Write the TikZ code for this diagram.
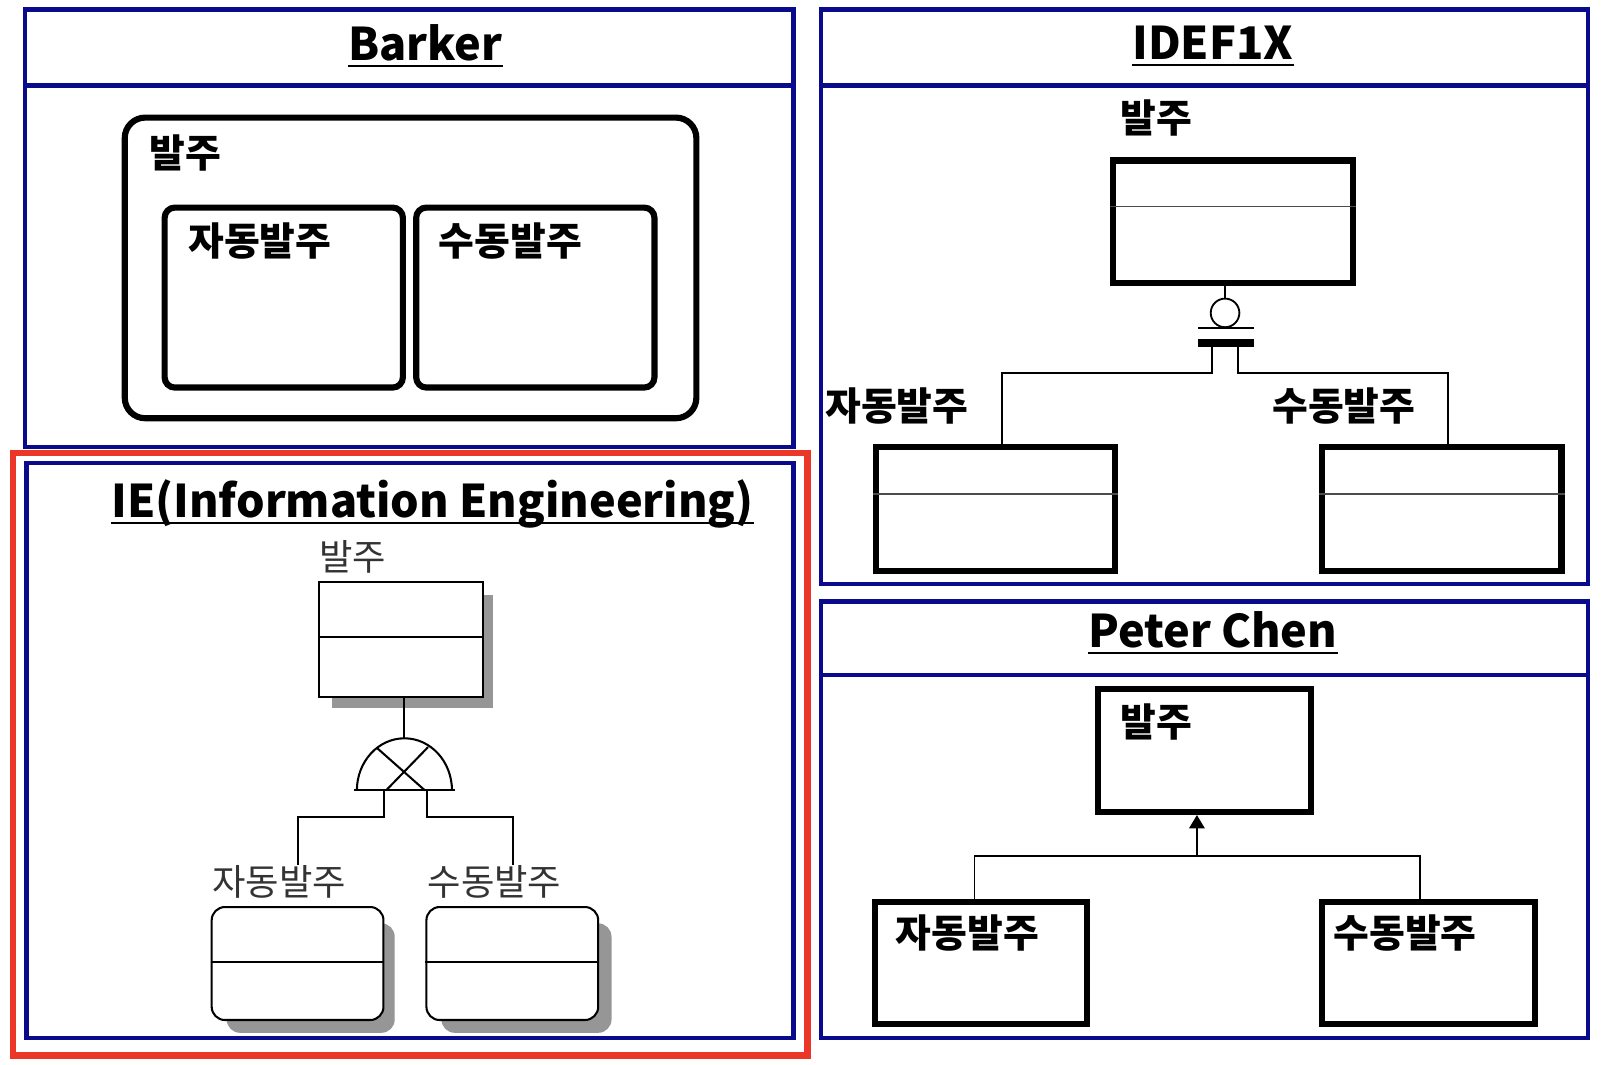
\documentclass[tikz,border=0pt]{standalone}
\usepackage{fontspec}
\setmainfont{Noto Sans CJK KR}
\usetikzlibrary{arrows.meta,fit}
\definecolor{frameblue}{RGB}{10,10,140}
\definecolor{framered}{RGB}{235,55,40}
\definecolor{shadowgray}{RGB}{150,150,150}
\tikzset{
  panel/.style={draw=frameblue,line width=4.4pt,inner sep=0pt},
  redframe/.style={draw=framered,line width=6.8pt,inner sep=0pt},
  heavy/.style={draw=black,line width=6pt,inner sep=0pt},
  thinline/.style={draw=black,line width=1.8pt},
  innerline/.style={draw=black!70,line width=1.4pt},
  iebox/.style={draw=black,line width=2pt,fill=white,inner sep=0pt},
  ieline/.style={draw=black,line width=2pt},
  ttl/.style={font=\bfseries\fontsize{44}{48}\selectfont,inner sep=0pt},
  uline/.style={draw=black,line width=2pt},
  lbl/.style={font=\bfseries\fontsize{38}{42}\selectfont,inner sep=0pt,anchor=west},
  ielbl/.style={font=\fontsize{35.5}{39}\selectfont,inner sep=0pt,text=black!80},
}
\begin{document}
\begin{tikzpicture}[x=1pt,y=-1pt]
\useasboundingbox (0,0) rectangle (1568.6,1040.6);
\fill[white] (0,0) rectangle (1568.6,1040.6);

% ---------- panels ----------
\node[panel,fit={(24.5,9.3) (776,437)}] (barker) {};
\draw[panel] (24.5,83.6) -- (776,83.6);
\node[panel,fit={(803,9.3) (1553,571)}] (idef) {};
\draw[panel] (803,83.6) -- (1553,83.6);
\node[panel,fit={(803,588) (1553,1015)}] (chen) {};
\draw[panel] (803,660) -- (1553,660);
\node[panel,fit={(26,453) (776,1015)}] (ie) {};
\node[redframe,fit={(12.7,443) (790,1032)}] (iered) {};

% ---------- titles ----------
\node[ttl] (tbarker) at (416,42) {Barker};
\node[ttl] (tidef) at (1186,42) {IDEF1X};
\node[ttl] (tchen) at (1186,616) {Peter Chen};
\node[ttl] (tie) at (423,493) {IE(Information Engineering)};
\foreach \t in {tbarker,tidef,tchen,tie}{
  \draw[uline] ([yshift=-5pt]\t.base west) -- ([yshift=-5pt]\t.base east);
}

% ---------- Barker ----------
\node[heavy,rounded corners=20pt,fit={(122,115) (681,409)}] (bpar) {};
\node[lbl] (bparl) at (146,150) {발주};
\node[heavy,rounded corners=10pt,fit={(161,203) (394,379)}] (bauto) {};
\node[lbl] (bautol) at (184,236) {자동발주};
\node[heavy,rounded corners=10pt,fit={(407,203) (640,379)}] (bman) {};
\node[lbl] (bmanl) at (429,236) {수동발주};

% ---------- IDEF1X ----------
\node[lbl] (idpl) at (1096,115) {발주};
\node[heavy,fit={(1088,157) (1323,277)}] (idp) {};
\draw[innerline] (idp.west |- 0,202) -- (idp.east |- 0,202);
\node[circle,thinline,minimum size=28pt,inner sep=0pt] (idc) at (1198,306) {};
\draw[thinline] (idc.north) -- (idc |- idp.south);
\draw[thinline] (1172,321) -- (1226,321);
\draw[line width=7pt] (1172,335.5) -- (1226,335.5);
\node[heavy,fit={(857,437) (1090,558)}] (idl) {};
\draw[innerline] (idl.west |- 0,483) -- (idl.east |- 0,483);
\node[heavy,fit={(1293,437) (1527,558)}] (idr) {};
\draw[innerline] (idr.west |- 0,483) -- (idr.east |- 0,483);
\node[lbl] (idll) at (807,397) {자동발주};
\node[lbl] (idrl) at (1244,397) {수동발주};
\coordinate (idjl) at (980,365);
\coordinate (idjr) at (1416,365);
\draw[thinline] (1185,338) |- (idjl) -- (idjl |- idl.north);
\draw[thinline] (1211,338) |- (idjr) -- (idjr |- idr.north);

% ---------- Peter Chen ----------
\node[heavy,fit={(1074,674) (1282,794)}] (pcp) {};
\node[lbl] (pcpl) at (1096,706) {발주};
\node[heavy,fit={(856,882) (1063,1001)}] (pcl) {};
\node[lbl] (pcll) at (876,912) {자동발주};
\node[heavy,fit={(1293,882) (1501,1001)}] (pcr) {};
\node[lbl] (pcrl) at (1304,912) {수동발주};
\coordinate (pcj) at (1170.5,837);
\coordinate (pcjl) at (953,837);
\coordinate (pcjr) at (1389,837);
\draw[thinline,-{Triangle[length=13pt,width=15pt]}] (pcj) -- (pcj |- pcp.south);
\draw[thinline] (pcjl |- pcl.north) -- (pcjl) -- (pcjr) -- (pcjr |- pcr.north);

% ---------- IE ----------
\fill[white] (205,1000) rectangle (601,1013.6);
\node[ielbl] (iepl) at (345,545) {발주};
\fill[shadowgray] (325,582) rectangle (482,692);
\node[iebox,fit={(312,569) (472,682)}] (iep) {};
\draw[ieline] (iep.west |- 0,623) -- (iep.east |- 0,623);
\coordinate (dm) at (395.5,773);
\draw[ieline] (dm |- iep.south) -- (395.5,722);
\draw[ieline] (349,773) arc[start angle=180,end angle=0,x radius=46.5pt,y radius=51pt];
\draw[ieline] (346,773) -- (445,773);
\draw[ieline] (368.7,731.5) -- (415.6,773);
\draw[ieline] (418.6,730.6) -- (377.5,773);
\node[ielbl] (ieal) at (273,862) {자동발주};
\node[ielbl] (ieml) at (483.5,862) {수동발주};
\coordinate (iejl) at (291.5,799);
\coordinate (iejr) at (502,799);
\draw[ieline] (375.5,773) |- (iejl) -- (iejl |- ieal.north);
\draw[ieline] (417.6,773) |- (iejr) -- (iejr |- ieml.north);
\fill[shadowgray,rounded corners=13pt] (221.7,903) rectangle (386,1010);
\node[iebox,rounded corners=13pt,fit={(207,887) (375,997.5)}] (iea) {};
\draw[ieline] (iea.west |- 0,940.5) -- (iea.east |- 0,940.5);
\fill[shadowgray,rounded corners=13pt] (431.7,903) rectangle (598,1010);
\node[iebox,rounded corners=13pt,fit={(417,887) (585,997.5)}] (iem) {};
\draw[ieline] (iem.west |- 0,940.5) -- (iem.east |- 0,940.5);
\end{tikzpicture}
\end{document}
